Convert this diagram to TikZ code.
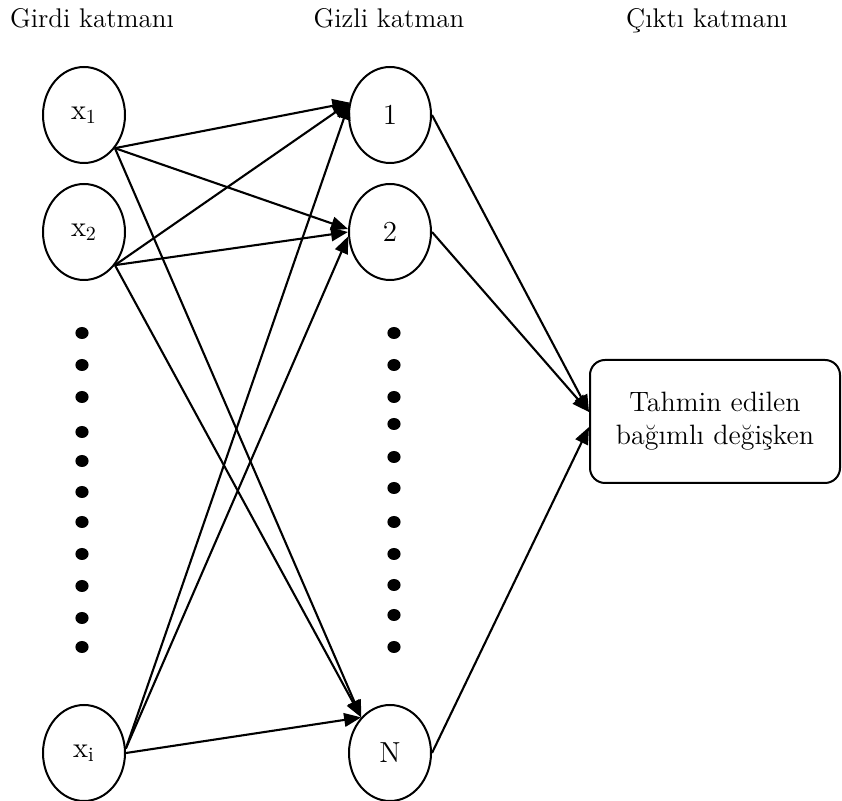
\documentclass[tikz,border=0pt]{standalone}
\usepackage{fontspec}
\usetikzlibrary{shapes.geometric,arrows.meta}
\begin{document}
\begin{tikzpicture}[x=0.5pt,y=-0.5pt,
  neuron/.style={draw,line width=1pt,ellipse,minimum width=41pt,minimum height=48pt,inner sep=0pt,font=\fontsize{14.5}{17}\selectfont},
  conn/.style={line width=1.05pt,-{Triangle[length=8.5pt,width=6.8pt]}},
  hdr/.style={anchor=base,font=\fontsize{13.5}{16}\selectfont},
  outbox/.style={draw,line width=1pt,rounded corners=7.5pt,minimum width=125pt,minimum height=61.5pt,align=center,inner sep=0pt,font=\fontsize{14}{17.5}\selectfont}]
\useasboundingbox (0,0) rectangle (842,801);

% headers
\node[hdr] (h1) at (92,28) {Girdi katmanı};
\node[hdr] (h2) at (389,28) {Gizli katman};
\node[hdr] (h3) at (707,28) {Çıktı katmanı};

% input nodes
\node[neuron] (x1) at (84,115) {$\mathrm{x}_1$};
\node[neuron] (x2) at (84,232) {$\mathrm{x}_2$};
\node[neuron] (xi) at (84,753) {$\mathrm{x}_\mathrm{i}$};

% hidden nodes
\node[neuron] (h1n) at (390,115) {1};
\node[neuron] (h2n) at (390,232) {2};
\node[neuron] (hN) at (390,753) {N};

% output
\node[outbox] (out) at (715,421.5) {\raisebox{3pt}{\begin{tabular}{@{}c@{}}Tahmin edilen\\[-1pt]bağımlı değişken\end{tabular}}};

% dots
\foreach \y in {333,365,397,432,461,492,522,554,586,618,647}
  \fill (82,\y) ellipse [x radius=3.3pt, y radius=3pt];
\foreach \y in {333,365,397,424,457,488,522,554,585,615,647}
  \fill (394,\y) ellipse [x radius=3.3pt, y radius=3pt];

% connections input -> hidden
\draw[conn] (x1.-47) -- (h1n.163);
\draw[conn] (x1.-47) -- (h2n.176);
\draw[conn] (x1.-47) -- (hN.129);
\draw[conn] (x2.-47) -- (h1n.163);
\draw[conn] (x2.-47) -- (h2n.180);
\draw[conn] (x2.-47) -- (hN.129);
\draw[conn] (xi.6) -- (h1n.163);
\draw[conn] (xi.6) -- (h2n.186);
\draw[conn] (xi.east) -- (hN.129);

% hidden -> output
\draw[conn] (h1n.east) -- ([yshift=4.75pt]out.west);
\draw[conn] (h2n.east) -- ([yshift=4.75pt]out.west);
\draw[conn] (hN.east) -- ([yshift=-2.75pt]out.west);
\end{tikzpicture}
\end{document}
